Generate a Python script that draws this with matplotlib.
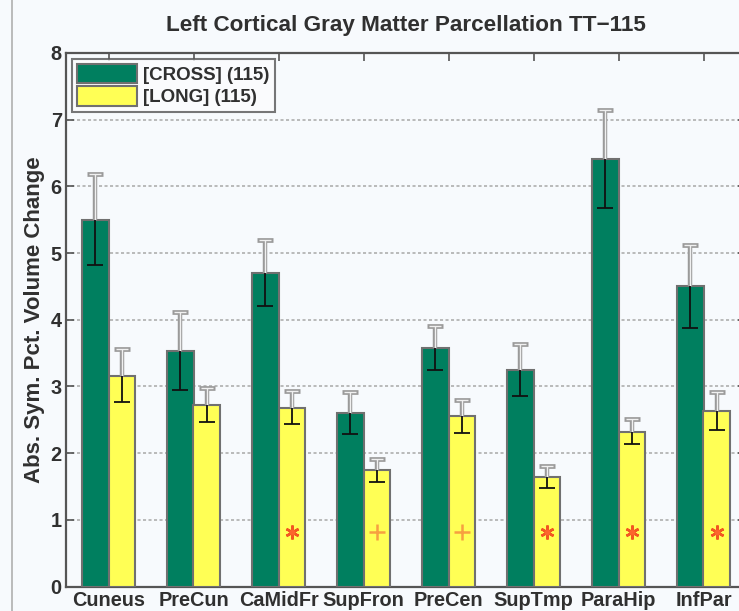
import matplotlib
matplotlib.use("Agg")
import matplotlib.pyplot as plt
import numpy as np

# Parcellation regions and group statistics
regions = ["Cuneus", "PreCun", "CaMidFr", "SupFron", "PreCen", "SupTmp", "ParaHip", "InfPar"]
cross_mean = [5.50, 3.53, 4.70, 2.60, 3.58, 3.24, 6.41, 4.50]
cross_err = [0.68, 0.58, 0.50, 0.32, 0.33, 0.39, 0.73, 0.62]
long_mean = [3.16, 2.72, 2.68, 1.74, 2.55, 1.64, 2.32, 2.63]
long_err = [0.40, 0.26, 0.25, 0.17, 0.25, 0.165, 0.19, 0.28]
# significance markers drawn on the LONG bars ("*" or "+", None = none)
sig_marks = [None, None, "*", "+", "+", "*", "*", "*"]
sig_level = 0.82
series_names = ["[CROSS] (115)", "[LONG] (115)"]
title_text = "Left Cortical Gray Matter Parcellation TT\u2212115"
ylabel_text = "Abs. Sym. Pct. Volume Change"
yticks = [0, 1, 2, 3, 4, 5, 6, 7, 8]

GREEN = "#007f5f"
YELLOW = "#ffff55"
BG = "#f7fafd"

plt.rcParams["font.family"] = ["Liberation Sans", "DejaVu Sans"]

fig = plt.figure(figsize=(7.39, 6.11), dpi=100, facecolor=BG)
ax = fig.add_axes([66 / 739, 24.5 / 611, 680 / 739, 533.5 / 611])
ax.set_facecolor(BG)

x = np.arange(1, len(regions) + 1)
w = 0.31

ax.bar(x - w / 2, cross_mean, w, color=GREEN, edgecolor="#707070", linewidth=1.5,
       label=series_names[0], zorder=3)
ax.bar(x + w / 2, long_mean, w, color=YELLOW, edgecolor="#707070", linewidth=1.5,
       label=series_names[1], zorder=3)

# error bars: upper half as a grey outlined stroke, lower half in black
for xs, m, e in ((x - w / 2, cross_mean, cross_err), (x + w / 2, long_mean, long_err)):
    m = np.asarray(m)
    e = np.asarray(e)
    top = m + e
    bot = m - e
    ax.vlines(xs, m, top, color="#9a9a9a", linewidth=3.2, zorder=4)
    ax.vlines(xs, m, top, color="#f0f0f0", linewidth=1.0, zorder=5)
    ax.plot(xs, top, linestyle="none", marker="_", markersize=11, markeredgewidth=3.4,
            color="#9a9a9a", zorder=4)
    ax.plot(xs, top, linestyle="none", marker="_", markersize=9, markeredgewidth=1.0,
            color="#f0f0f0", zorder=5)
    ax.vlines(xs, bot, m, color="#111111", linewidth=1.3, zorder=5)
    ax.plot(xs, bot, linestyle="none", marker="_", markersize=11, markeredgewidth=1.3,
            color="#111111", zorder=5)

for xi, mk in zip(x, sig_marks):
    if mk == "*":
        ax.plot(xi + w / 2, sig_level, marker=(6, 2, 0), color="#f03818", markersize=10,
                markeredgewidth=1.8, alpha=0.85, zorder=6)
        ax.plot(xi + w / 2, sig_level, marker="o", color="#ff6a30", markersize=4,
                markeredgewidth=0, alpha=0.8, zorder=6)
    elif mk == "+":
        ax.plot(xi + w / 2, sig_level, marker="+", color="#f7a040", markersize=12,
                markeredgewidth=1.8, zorder=6)

ax.set_xlim(0.5, 8.5)
ax.set_ylim(0, 8)
ax.set_yticks(yticks)
ax.set_xticks(x)
ax.set_xticklabels(regions)
ax.yaxis.grid(True, linestyle=(0, (2.0, 1.6)), color="#a8a8a8", linewidth=1.1, zorder=1)
ax.set_axisbelow(True)

ax.tick_params(axis="both", direction="in", length=6, width=1.2, color="#555555",
               top=True, right=True, labelsize=14.3, labelcolor="#303030", pad=3)
for lab in ax.get_xticklabels() + ax.get_yticklabels():
    lab.set_fontweight("bold")
for sp in ax.spines.values():
    sp.set_color("#555555")
    sp.set_linewidth(1.6)

ax.set_title(title_text, fontsize=16.2, fontweight="bold", color="#303030", pad=16)
ax.set_ylabel(ylabel_text, fontsize=16, fontweight="bold", color="#303030", labelpad=4)

leg = ax.legend(loc="upper left", fontsize=13.5, frameon=True, fancybox=False,
                edgecolor="#555555", facecolor="#fbfcfe", borderaxespad=0.3,
                handlelength=3.2, handleheight=1.2, handletextpad=0.3,
                labelspacing=0.12, borderpad=0.3)
leg.get_frame().set_linewidth(1.5)
for t in leg.get_texts():
    t.set_fontweight("bold")
    t.set_color("#303030")

# thin frame line at the left of the figure
fig.add_artist(plt.Line2D([12 / 739, 12 / 739], [0, 1], color="#b0b0b0", linewidth=1.2))

fig.savefig("out.png", dpi=100, facecolor=BG)
